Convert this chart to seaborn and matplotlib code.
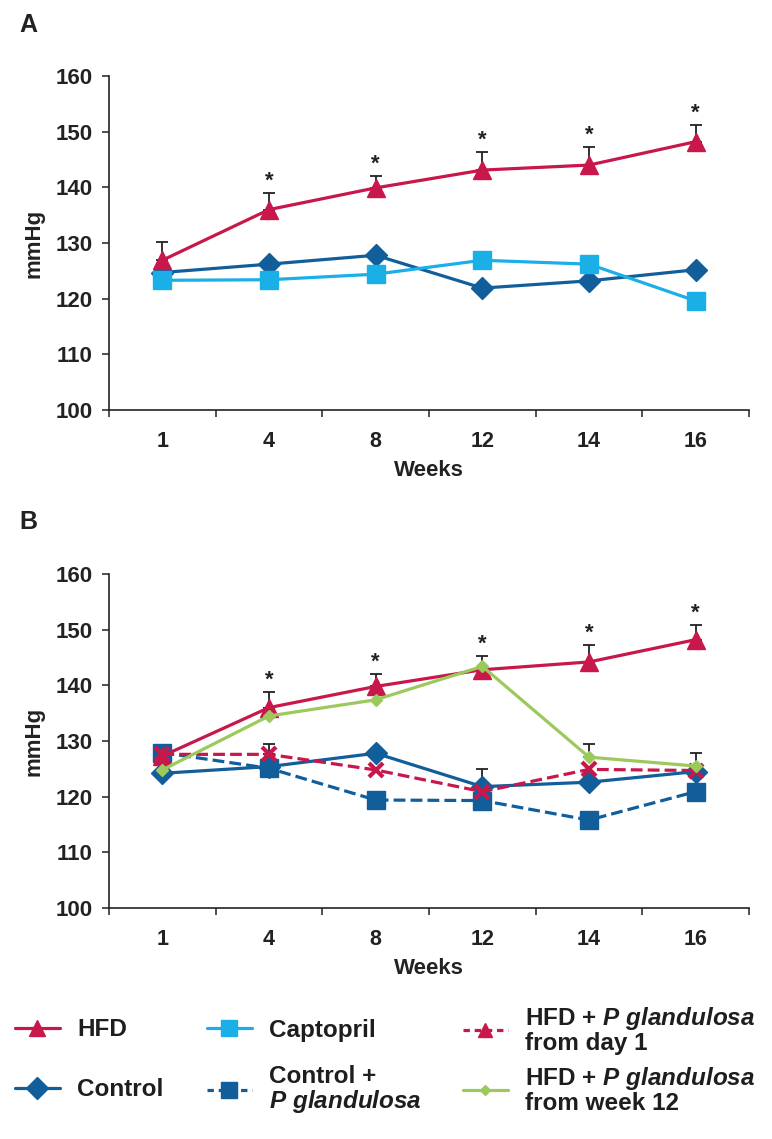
import numpy as np
import pandas as pd
import matplotlib
matplotlib.use("Agg")
import matplotlib.pyplot as plt
from matplotlib.lines import Line2D
import seaborn as sns

# ---------------- data ----------------
weeks = ["1", "4", "8", "12", "14", "16"]

# Panel A
a_hfd = [126.9, 136.0, 139.9, 143.1, 144.0, 148.2]
a_hfd_err = [3.2, 2.9, 2.2, 3.2, 3.2, 3.0]
a_control = [124.7, 126.2, 127.8, 121.9, 123.2, 125.2]
a_captopril = [123.3, 123.4, 124.4, 126.9, 126.2, 119.6]
a_star = [False, True, True, True, True, True]

# Panel B
b_hfd = [127.3, 136.0, 139.8, 142.8, 144.2, 148.2]
b_hfd_err = [np.nan, 2.8, 2.3, 2.5, 3.1, 2.7]
b_star = [False, True, True, True, True, True]
b_control = [124.2, 125.4, 127.8, 121.8, 122.6, 124.5]
b_control_err = [np.nan, np.nan, np.nan, 3.1, np.nan, np.nan]
b_control_pg = [127.9, 125.1, 119.4, 119.3, 115.8, 120.9]
b_day1 = [127.6, 127.6, 124.8, 120.9, 124.9, 124.7]
b_day1_err = [np.nan, 1.8, np.nan, np.nan, np.nan, np.nan]
b_week12 = [124.8, 134.5, 137.4, 143.4, 127.1, 125.5]
b_week12_err = [np.nan, np.nan, np.nan, np.nan, 2.3, 2.4]

# ---------------- style ----------------
sns.set_style("ticks")
plt.rcParams["font.family"] = ["Liberation Sans", "DejaVu Sans"]
plt.rcParams["font.weight"] = "bold"
plt.rcParams["axes.labelweight"] = "bold"
plt.rcParams["mathtext.fontset"] = "custom"
plt.rcParams["mathtext.it"] = "Liberation Sans:italic:bold"
plt.rcParams["mathtext.rm"] = "Liberation Sans:bold"
plt.rcParams["mathtext.bf"] = "Liberation Sans:bold"

CRIMSON = "#C8174B"
DBLUE = "#115E9B"
LBLUE = "#1BAFE8"
GREEN = "#9BC95C"
AXC = "#222222"
LW = 2.3

fig = plt.figure(figsize=(7.72, 11.39), dpi=100)
W, H = 772.0, 1139.0


def add_axes(left, right, top, bottom):
    return fig.add_axes([left / W, 1 - bottom / H, (right - left) / W, (bottom - top) / H])


axA = add_axes(109, 749, 76, 410)
axB = add_axes(109, 749, 574, 908)


def series(ax, vals, color, marker, ms, ls="-", mew=1.0, lw=LW):
    sns.pointplot(x=weeks, y=vals, order=weeks, ax=ax, color=color, markers=marker,
                  linestyles=ls, errorbar=None, markersize=ms, linewidth=lw,
                  markeredgewidth=mew)


def errbars(ax, vals, errs, stars=None):
    x = np.arange(len(weeks))
    v = np.array(vals, float)
    e = np.array(errs, float)
    m = ~np.isnan(e)
    ax.errorbar(x[m], v[m], yerr=[np.zeros(m.sum()), e[m]], fmt="none",
                ecolor=AXC, elinewidth=1.3, capsize=4.5, capthick=1.3, zorder=0.5)
    if stars is not None:
        for xi, vi, ei, s in zip(x, v, e, stars):
            if s:
                ax.annotate("*", (xi, vi + ei), xytext=(0, 1), textcoords="offset points",
                            ha="center", va="bottom", fontsize=16, fontweight="bold",
                            color=AXC)


# Panel A
errbars(axA, a_hfd, a_hfd_err, a_star)
series(axA, a_control, DBLUE, "D", 11.5)
series(axA, a_captopril, LBLUE, "s", 12.5)
series(axA, a_hfd, CRIMSON, "^", 13.5)

# Panel B
errbars(axB, b_hfd, b_hfd_err, b_star)
errbars(axB, b_control, b_control_err)
errbars(axB, b_day1, b_day1_err)
errbars(axB, b_week12, b_week12_err)
series(axB, b_control_pg, DBLUE, "s", 12.5, ls="--")
series(axB, b_control, DBLUE, "D", 11.5)
series(axB, b_hfd, CRIMSON, "^", 13.5)
series(axB, b_day1, CRIMSON, "x", 10, ls="--", mew=3)
series(axB, b_week12, GREEN, "D", 6)

for ax in (axA, axB):
    ax.set_ylim(100, 160)
    ax.set_yticks(np.arange(100, 161, 10))
    ax.set_xlim(-0.5, len(weeks) - 0.5)
    ax.set_xticks(np.arange(len(weeks)))
    ax.set_xticklabels(weeks)
    ax.set_xticks(np.arange(len(weeks) + 1) - 0.5, minor=True)
    ax.tick_params(axis="x", which="major", length=0, pad=15, labelsize=15.5, colors=AXC)
    ax.tick_params(axis="x", which="minor", length=5, width=1.1, direction="out", color=AXC)
    ax.tick_params(axis="y", length=5, width=1.1, direction="out", pad=7,
                   labelsize=16, colors=AXC)
    for lab in ax.get_xticklabels() + ax.get_yticklabels():
        lab.set_fontweight("bold")
    for s in ("top", "right"):
        ax.spines[s].set_visible(False)
    for s in ("left", "bottom"):
        ax.spines[s].set_color(AXC)
        ax.spines[s].set_linewidth(1.2)
    ax.set_xlabel("Weeks", fontsize=16, fontweight="bold", labelpad=6, color=AXC)
    ax.set_ylabel("mmHg", fontsize=16, fontweight="bold", labelpad=8, color=AXC)
    ax.grid(False)

fig.text(28 / W, 1 - 25 / H, "A", fontsize=18, fontweight="bold", ha="center", va="center", color=AXC)
fig.text(28 / W, 1 - 522 / H, "B", fontsize=18, fontweight="bold", ha="center", va="center", color=AXC)

# ---------------- legend ----------------
DASH = (0, (2.0, 1.5))
entries = [
    (15, 1030, Line2D([], [], color=CRIMSON, lw=LW, marker="^", ms=11), "HFD"),
    (15, 1090, Line2D([], [], color=DBLUE, lw=LW, marker="D", ms=11), "Control"),
    (207, 1030, Line2D([], [], color=LBLUE, lw=LW, marker="s", ms=11), "Captopril"),
    (207, 1090, Line2D([], [], color=DBLUE, lw=LW, ls=DASH, marker="s", ms=11),
     "Control +\n$P\\ glandulosa$"),
    (463, 1030, Line2D([], [], color=CRIMSON, lw=LW, ls=DASH, marker="^", ms=10),
     "HFD + $P\\ glandulosa$\nfrom day 1"),
    (463, 1090, Line2D([], [], color=GREEN, lw=LW, marker="D", ms=5),
     "HFD + $P\\ glandulosa$\nfrom week 12"),
]
for x, y, h, lab in entries:
    leg = fig.legend(handles=[h], labels=[lab], loc="center left",
                     bbox_to_anchor=(x / W, 1 - y / H), frameon=False,
                     borderpad=0, borderaxespad=0, handlelength=1.85, handletextpad=0.7,
                     prop={"size": 17.5, "weight": "bold"})
    for t in leg.get_texts():
        t.set_linespacing(1.02)
        t.set_color("#1e1e1e")

fig.savefig("out.png", dpi=100)
